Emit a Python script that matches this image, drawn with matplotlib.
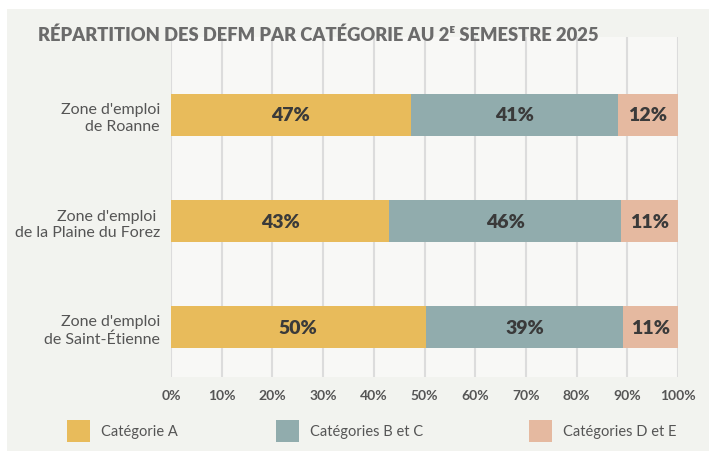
import matplotlib.pyplot as plt
from matplotlib.patches import Rectangle
import numpy as np

zones = ["Zone d'emploi\nde Roanne", "Zone d'emploi \nde la Plaine du Forez", "Zone d'emploi\nde Saint-Étienne"]
series = ["Catégorie A", "Catégories B et C", "Catégories D et E"]
cat_a = [47.3, 43.0, 50.2]
cat_bc = [40.8, 45.8, 39.0]
cat_de = [11.9, 11.2, 10.8]
labels_a = ["47%", "43%", "50%"]
labels_bc = ["41%", "46%", "39%"]
labels_de = ["12%", "11%", "11%"]
ticks = list(range(0, 101, 10))

colors = ["#e8bb5b", "#91acad", "#e5b9a0"]
txt_dark = "#3a3a3a"
txt_gray = "#555555"

plt.rcParams["font.family"] = ["Lato", "DejaVu Sans"]

fig = plt.figure(figsize=(7.09, 4.52), dpi=100)
fig.patch.set_facecolor("white")
fig.patches.append(Rectangle((7 / 709, 0), 1, 1 - 10 / 452, transform=fig.transFigure,
                             facecolor="#f2f3ef", edgecolor="none", zorder=-10))

ax = fig.add_axes([171 / 709, 1 - 378 / 452, 507 / 709, 340 / 452])
ax.set_facecolor("#f8f8f6")

y = np.arange(len(zones))
vals = [cat_a, cat_bc, cat_de]
labs = [labels_a, labels_bc, labels_de]
left = np.zeros(len(zones))
for v, c, lab, name in zip(vals, colors, labs, series):
    v = np.array(v)
    ax.barh(y, v, left=left, height=0.4, color=c, label=name, zorder=3)
    for yi, l, w, t in zip(y, left, v, lab):
        ax.text(l + w / 2, yi, t, ha="center", va="center", fontsize=14,
                fontweight="heavy", color=txt_dark, zorder=4)
    left += v

ax.set_xlim(0, 100)
ax.set_ylim(2.47, -0.735)
ax.set_xticks(ticks)
ax.set_xticklabels([f"{t}%" for t in ticks], fontsize=10, fontweight="bold", color=txt_gray)
ax.set_yticks(y)
ax.set_yticklabels(zones, fontsize=11.5, color=txt_gray, linespacing=1.25)
ax.tick_params(axis="y", length=0, pad=8)
ax.tick_params(axis="x", length=0, pad=9)
ax.grid(axis="x", color="#dcdcdc", linewidth=1.5, zorder=1)
for s in ax.spines.values():
    s.set_visible(False)

fig.text(38 / 709, 1 - 35 / 452, "RÉPARTITION DES DEFM PAR CATÉGORIE AU 2ᴱ SEMESTRE 2025",
         fontsize=13.2, fontweight="heavy", color="#6b6b6b",
         va="center", ha="left")

leg_x = [67, 276, 529]
for x0, c, name in zip(leg_x, colors, series):
    fig.patches.append(Rectangle((x0 / 709, 1 - 443 / 452), 23 / 709, 22 / 452,
                                 transform=fig.transFigure, facecolor=c, edgecolor="none"))
    fig.text((x0 + 34) / 709, 1 - 432 / 452, name, fontsize=10.5, color=txt_gray,
             va="center", ha="left")

fig.savefig("out.png", dpi=100, facecolor=fig.get_facecolor())
